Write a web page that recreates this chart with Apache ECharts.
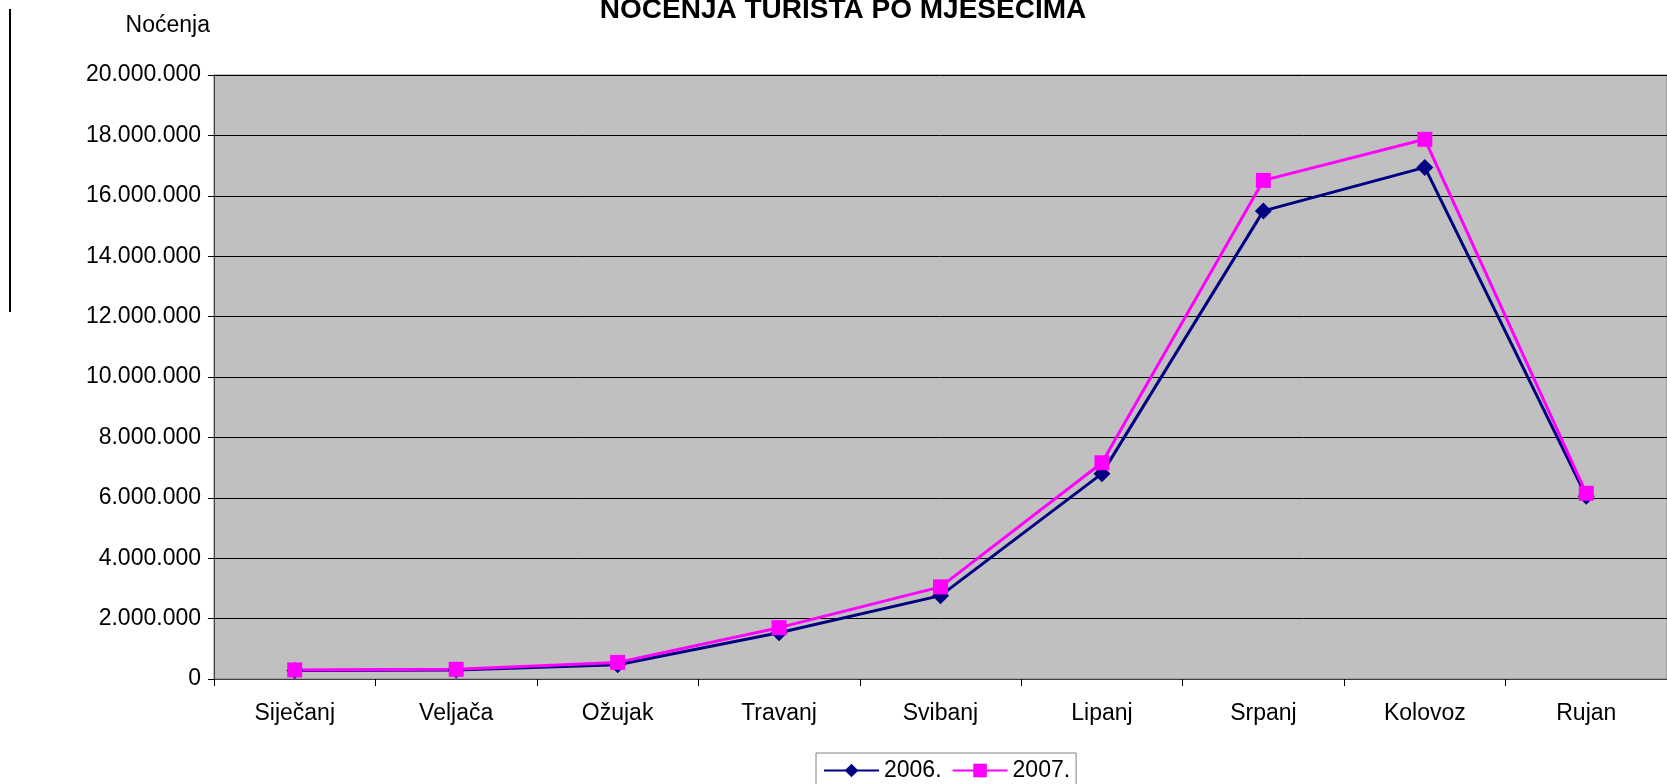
<!DOCTYPE html>
<html lang="hr">
<head>
    <meta charset="UTF-8">
    <title>Noćenja turista po mjesecima</title>
    <script src="https://cdn.jsdelivr.net/npm/echarts@6/dist/echarts.min.js"></script>
    <style>
        html, body { margin: 0; padding: 0; background: #fff; }
    </style>
</head>
<body>
<div id="main" style="width: 1667px; height: 784px;"></div>
<script type="text/javascript">
    // mjeseci
    var mjeseci = ['Siječanj', 'Veljača', 'Ožujak', 'Travanj', 'Svibanj', 'Lipanj', 'Srpanj', 'Kolovoz', 'Rujan'];
    // noćenja po godinama (procijenjeno s grafa)
    var nocenja2006 = [280000, 300000, 470000, 1530000, 2760000, 6800000, 15500000, 16940000, 6050000];
    var nocenja2007 = [300000, 320000, 550000, 1700000, 3050000, 7160000, 16510000, 17870000, 6150000];

    var font = 'Arial, "Liberation Sans", sans-serif';

    function tocke(n) {
        // 20000000 -> 20.000.000
        return String(n).replace(/\B(?=(\d{3})+(?!\d))/g, '.');
    }

    var myChart = echarts.init(document.getElementById('main'));

    var option = {
        backgroundColor: '#fff',
        animation: false,
        title: {
            text: 'NOĆENJA TURISTA PO MJESEČIMA',
            left: 838,
            textAlign: 'center',
            top: -9,
            textStyle: { fontFamily: font, fontSize: 28, fontWeight: 'bold', color: '#000' }
        },
        graphic: [{
            type: 'line',
            shape: { x1: 10, y1: 9, x2: 10, y2: 312 },
            style: { stroke: '#000', lineWidth: 2 }
        }],
        legend: {
            top: 753,
            left: 816,
            itemWidth: 55,
            itemHeight: 17,
            itemGap: 10,
            padding: [6, 6, 8, 7],
            borderColor: '#808080',
            borderWidth: 1,
            textStyle: { fontFamily: font, fontSize: 23, color: '#000' },
            data: ['2006.', '2007.']
        },
        grid: {
            left: 214,
            top: 75,
            width: 1465,
            height: 604,
            show: true,
            backgroundColor: '#C0C0C0',
            borderColor: '#808080',
            borderWidth: 1
        },
        xAxis: {
            type: 'category',
            data: mjeseci,
            boundaryGap: true,
            axisLine: { lineStyle: { color: '#404040', width: 1 } },
            axisTick: { show: true, length: 7, lineStyle: { color: '#000' } },
            axisLabel: { fontFamily: font, fontSize: 23, color: '#000', margin: 23 }
        },
        yAxis: {
            type: 'value',
            min: 0,
            max: 20000000,
            interval: 2000000,
            name: 'Noćenja',
            nameLocation: 'end',
            nameGap: 38,
            nameTextStyle: { fontFamily: font, fontSize: 23, color: '#000', align: 'right', padding: [0, 4, 0, 0] },
            axisLine: { show: true, lineStyle: { color: '#404040', width: 1 } },
            axisTick: { show: true, length: 6, lineStyle: { color: '#000' } },
            splitLine: { lineStyle: { color: '#000', width: 1 } },
            axisLabel: {
                fontFamily: font, fontSize: 23, color: '#000', margin: 13,
                formatter: function (v) { return tocke(v); }
            }
        },
        series: [
            {
                name: '2006.',
                type: 'line',
                data: nocenja2006,
                symbol: 'diamond',
                symbolSize: 17,
                lineStyle: { color: '#000080', width: 3 },
                itemStyle: { color: '#000080' }
            },
            {
                name: '2007.',
                type: 'line',
                data: nocenja2007,
                symbol: 'rect',
                symbolSize: 15,
                lineStyle: { color: '#FF00FF', width: 3 },
                itemStyle: { color: '#FF00FF' }
            }
        ]
    };

    myChart.setOption(option);
</script>
</body>
</html>
